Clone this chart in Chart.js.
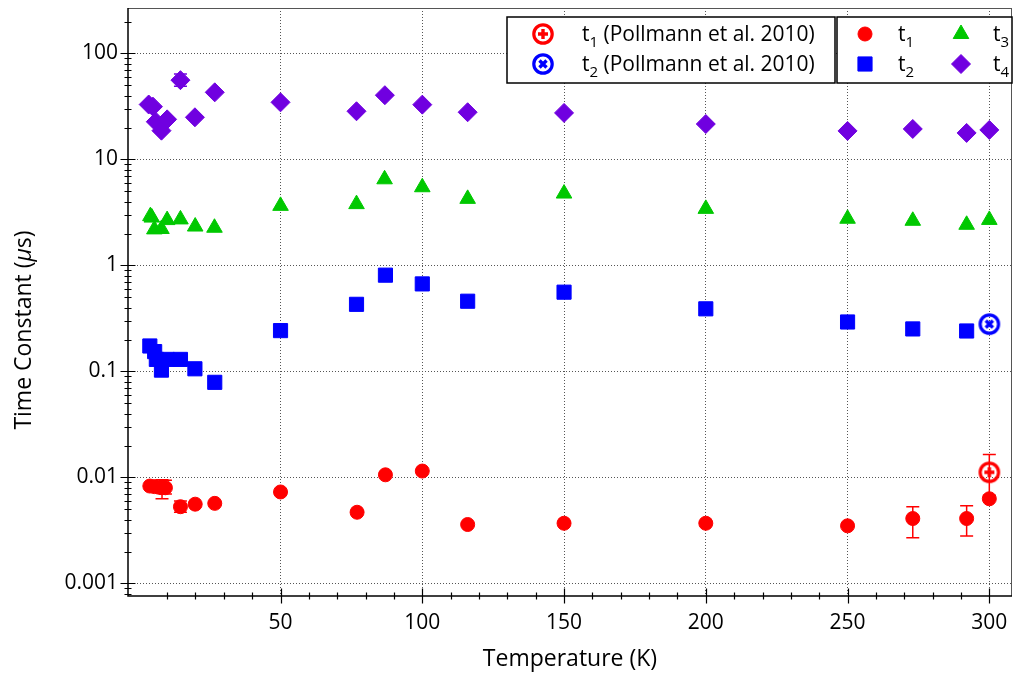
<!DOCTYPE html>
<html>
<head>
<meta charset="utf-8">
<script src="https://cdn.jsdelivr.net/npm/chart.js@4"></script>
<style>
  html, body { margin: 0; padding: 0; background: #fff; }
  #wrap { width: 1014px; height: 673px; position: relative; }
</style>
</head>
<body>
<div id="wrap"><canvas id="tauChart"></canvas></div>
<script>
// --- data (temperature in K, time constant in us) ---
const tempT1 = [3.9, 5.5, 7, 8.2, 9.4, 14.7, 19.9, 26.8, 50, 77, 87, 100, 116, 150, 200, 250, 273, 292, 300];
const valT1  = [0.0083, 0.0082, 0.0081, 0.0080, 0.0080, 0.0053, 0.0056, 0.0057, 0.0073, 0.0047, 0.0106, 0.0115, 0.0036, 0.0037, 0.0037, 0.0035, 0.0041, 0.0041, 0.0063];
const errT1  = [[8.2, 0.0063, 0.0095], [9.4, 0.0070, 0.0094], [14.7, 0.0047, 0.0060], [273, 0.0027, 0.0053], [292, 0.0028, 0.0054]];

const tempT2 = [3.9, 5.6, 6.2, 8.0, 10, 14.7, 19.8, 26.8, 50, 76.8, 87, 100, 116, 150, 200, 250, 273, 292];
const valT2  = [0.174, 0.154, 0.130, 0.103, 0.130, 0.130, 0.106, 0.079, 0.243, 0.43, 0.81, 0.67, 0.46, 0.56, 0.39, 0.293, 0.252, 0.241];
const errT2  = [[8.0, 0.092, 0.140], [10, 0.118, 0.142]];

const tempT3 = [4.1, 4.6, 5.5, 8, 10, 14.7, 19.9, 26.7, 50, 76.8, 86.7, 100, 116, 150, 200, 250, 273, 292, 300];
const valT3  = [2.92, 2.83, 2.19, 2.21, 2.68, 2.72, 2.33, 2.27, 3.65, 3.79, 6.5, 5.47, 4.25, 4.77, 3.42, 2.76, 2.64, 2.42, 2.69];

const tempT4 = [3.5, 5, 6, 8, 10, 14.7, 19.8, 26.8, 50, 76.8, 86.8, 100, 116, 150, 200, 250, 273, 292, 300];
const valT4  = [33, 31.5, 22.7, 18.7, 23.9, 56, 25, 43, 34.6, 28.5, 40.4, 32.9, 27.9, 27.5, 21.6, 18.6, 19.4, 17.8, 19.0];
const errT4  = [[14.7, 49, 64]];

const tempPollT1 = [300];
const valPollT1  = [0.0112];
const errPollT1  = [[300, 0.0068, 0.0165]];
const tempPollT2 = [300];
const valPollT2  = [0.28];

const xTickVals = [50, 100, 150, 200, 250, 300];
const xTickLabels = ['50', '100', '150', '200', '250', '300'];
const yTickVals = [0.001, 0.01, 0.1, 1, 10, 100];
const yTickLabels = ['0.001', '0.01', '0.1', '1', '10', '100'];

const FONT = "'Open Sans', 'DejaVu Sans', sans-serif";
const RED = '#ff0000', BLUE = '#0000ff', GREEN = '#00c800', PURPLE = '#7000e0';

function pts(xs, ys) {
    return xs.map((x, i) => ({ x: x, y: ys[i] }));
}

// ring marker with a plus (or x) inside, used for the Pollmann points
function ringMarker(color, rotated) {
    const c = document.createElement('canvas');
    c.width = 28; c.height = 28;
    const g = c.getContext('2d');
    g.strokeStyle = color;
    g.lineWidth = 3.2;
    g.beginPath();
    g.arc(14, 14, 9.2, 0, Math.PI * 2);
    g.stroke();
    g.save();
    g.translate(14, 14);
    if (rotated) g.rotate(Math.PI / 4);
    g.lineWidth = 3.4;
    g.beginPath();
    g.moveTo(-5, 0); g.lineTo(5, 0);
    g.moveTo(0, -5); g.lineTo(0, 5);
    g.stroke();
    g.restore();
    return c;
}

function serie(label, sub, xs, ys, color, style, radius, errs) {
    return {
        label: label,
        sub: sub,
        data: pts(xs, ys),
        errBars: errs || null,
        errColor: color,
        backgroundColor: color,
        borderColor: color,
        pointStyle: style,
        pointRadius: radius,
        pointHoverRadius: radius,
        pointBorderWidth: 1,
        showLine: false
    };
}

const errorBars = {
    id: 'errorBars',
    beforeDatasetsDraw(chart) {
        const { ctx, scales: { x, y } } = chart;
        chart.data.datasets.forEach(ds => {
            if (!ds.errBars) return;
            ctx.save();
            ctx.strokeStyle = ds.errColor;
            ctx.lineWidth = 1.5;
            ds.errBars.forEach(([t, lo, hi]) => {
                const px = x.getPixelForValue(t);
                const p1 = y.getPixelForValue(lo);
                const p2 = y.getPixelForValue(hi);
                ctx.beginPath();
                ctx.moveTo(px, p1); ctx.lineTo(px, p2);
                ctx.moveTo(px - 6.5, p1); ctx.lineTo(px + 6.5, p1);
                ctx.moveTo(px - 6.5, p2); ctx.lineTo(px + 6.5, p2);
                ctx.stroke();
            });
            ctx.restore();
        });
    }
};

// frame, major and minor tick marks, axis titles
const frameAndTicks = {
    id: 'frameAndTicks',
    afterDatasetsDraw(chart) {
        const { ctx, chartArea: a, scales: { x, y } } = chart;
        ctx.save();
        ctx.strokeStyle = '#555';
        ctx.lineWidth = 1;
        ctx.beginPath();
        ctx.moveTo(a.left, a.top + 0.5); ctx.lineTo(a.right, a.top + 0.5);
        ctx.moveTo(a.right - 0.5, a.top); ctx.lineTo(a.right - 0.5, a.bottom);
        ctx.stroke();

        ctx.strokeStyle = '#000';
        ctx.lineWidth = 1.5;
        ctx.beginPath();
        ctx.moveTo(a.left, a.top); ctx.lineTo(a.left, a.bottom);
        ctx.lineTo(a.right, a.bottom);
        ctx.stroke();

        ctx.lineWidth = 1.2;
        ctx.beginPath();
        for (let t = 10; t <= x.max; t += 10) {
            const px = Math.round(x.getPixelForValue(t)) + 0.5;
            const len = t % 50 === 0 ? 7.5 : 3.5;
            ctx.moveTo(px, a.bottom - len); ctx.lineTo(px, a.bottom + len);
        }
        for (let e = -4; e <= 2; e++) {
            for (let m = 1; m <= 9; m++) {
                const v = m * Math.pow(10, e);
                if (v < y.min || v > y.max) continue;
                const py = Math.round(y.getPixelForValue(v)) + 0.5;
                const len = m === 1 ? 7.5 : 3.5;
                ctx.moveTo(a.left - len, py); ctx.lineTo(a.left + len, py);
            }
        }
        ctx.stroke();

        // axis titles
        ctx.fillStyle = '#000';
        ctx.font = '23px ' + FONT;
        ctx.textAlign = 'center';
        ctx.textBaseline = 'middle';
        ctx.fillText('Temperature (K)', (a.left + a.right) / 2, 659);

        ctx.translate(24, 330);
        ctx.rotate(-Math.PI / 2);
        const parts = [['Time Constant (', ''], ['\u03bc', 'italic '], ['s)', '']];
        let total = 0;
        parts.forEach(p => { ctx.font = p[1] + '23px ' + FONT; total += ctx.measureText(p[0]).width; });
        let cx = -total / 2;
        ctx.textAlign = 'left';
        parts.forEach(p => {
            ctx.font = p[1] + '23px ' + FONT;
            ctx.fillText(p[0], cx, 0);
            cx += ctx.measureText(p[0]).width;
        });
        ctx.restore();
    }
};

// two boxed legends in the top right corner
const boxLegend = {
    id: 'boxLegend',
    afterDraw(chart) {
        const { ctx } = chart;
        const ds = chart.data.datasets;
        const boxes = [
            { x: 507, y: 17, w: 328, h: 66 },
            { x: 837, y: 17, w: 175, h: 66 }
        ];
        const entries = [
            { d: 4, mx: 543, tx: 582, ry: 34 },
            { d: 5, mx: 543, tx: 582, ry: 64 },
            { d: 0, mx: 865, tx: 898, ry: 34 },
            { d: 1, mx: 865, tx: 898, ry: 64 },
            { d: 2, mx: 961, tx: 993, ry: 34 },
            { d: 3, mx: 961, tx: 993, ry: 64 }
        ];
        ctx.save();
        boxes.forEach(b => {
            ctx.fillStyle = '#fff';
            ctx.fillRect(b.x, b.y, b.w, b.h);
            ctx.strokeStyle = '#000';
            ctx.lineWidth = 1.5;
            ctx.strokeRect(b.x, b.y, b.w, b.h);
        });
        entries.forEach(en => {
            const d = ds[en.d];
            ctx.fillStyle = d.backgroundColor;
            ctx.strokeStyle = d.borderColor;
            ctx.lineWidth = 1;
            Chart.helpers.drawPoint(ctx, { pointStyle: d.pointStyle, radius: d.pointRadius, rotation: 0, borderWidth: 1 }, en.mx, en.ry);
            ctx.fillStyle = '#000';
            ctx.textAlign = 'left';
            ctx.textBaseline = 'alphabetic';
            ctx.font = '21px ' + FONT;
            let tx = en.tx;
            ctx.fillText('t', tx, en.ry + 7);
            tx += ctx.measureText('t').width;
            ctx.font = '15px ' + FONT;
            ctx.fillText(d.sub, tx, en.ry + 13);
            tx += ctx.measureText(d.sub).width;
            const rest = d.label.replace(/^t\d/, '');
            if (rest) {
                ctx.font = '21px ' + FONT;
                ctx.fillText(rest, tx, en.ry + 7);
            }
        });
        ctx.restore();
    }
};

const datasets = [
    serie('t1', '1', tempT1, valT1, RED, 'circle', 7, errT1),
    serie('t2', '2', tempT2, valT2, BLUE, 'rect', 10, errT2),
    serie('t3', '3', tempT3, valT3, GREEN, 'triangle', 9, null),
    serie('t4', '4', tempT4, valT4, PURPLE, 'rectRot', 9.5, errT4),
    serie('t1 (Pollmann et al. 2010)', '1', tempPollT1, valPollT1, RED, ringMarker(RED, false), 11, errPollT1),
    serie('t2 (Pollmann et al. 2010)', '2', tempPollT2, valPollT2, BLUE, ringMarker(BLUE, true), 11, null)
];

new Chart(document.getElementById('tauChart'), {
    type: 'scatter',
    data: { datasets: datasets },
    plugins: [errorBars, frameAndTicks, boxLegend],
    options: {
        responsive: true,
        maintainAspectRatio: false,
        animation: false,
        layout: { autoPadding: false, padding: { top: 8, right: 2, left: 0, bottom: 0 } },
        plugins: {
            legend: { display: false },
            tooltip: { enabled: false }
        },
        scales: {
            x: {
                type: 'linear',
                min: -3.8,
                max: 308,
                afterBuildTicks: s => { s.ticks = xTickVals.map(v => ({ value: v })); },
                afterFit: s => { s.height = 77; s.paddingLeft = 0; s.paddingRight = 0; },
                ticks: {
                    autoSkip: false,
                    maxRotation: 0,
                    padding: 14,
                    color: '#000',
                    font: { family: FONT, size: 21 },
                    callback: (v, i) => xTickLabels[i]
                },
                grid: { color: '#555', lineWidth: 1, drawTicks: false },
                border: { display: false, dash: [1, 2] }
            },
            y: {
                type: 'logarithmic',
                min: 0.000762,
                max: 268.5,
                afterBuildTicks: s => { s.ticks = yTickVals.map(v => ({ value: v })); },
                afterFit: s => { s.width = 128; s.paddingTop = 0; s.paddingBottom = 0; },
                ticks: {
                    autoSkip: false,
                    padding: 10,
                    color: '#000',
                    font: { family: FONT, size: 21 },
                    callback: (v, i) => yTickLabels[i]
                },
                grid: { color: '#555', lineWidth: 1, drawTicks: false },
                border: { display: false, dash: [1, 2] }
            }
        }
    }
});
</script>
</body>
</html>
